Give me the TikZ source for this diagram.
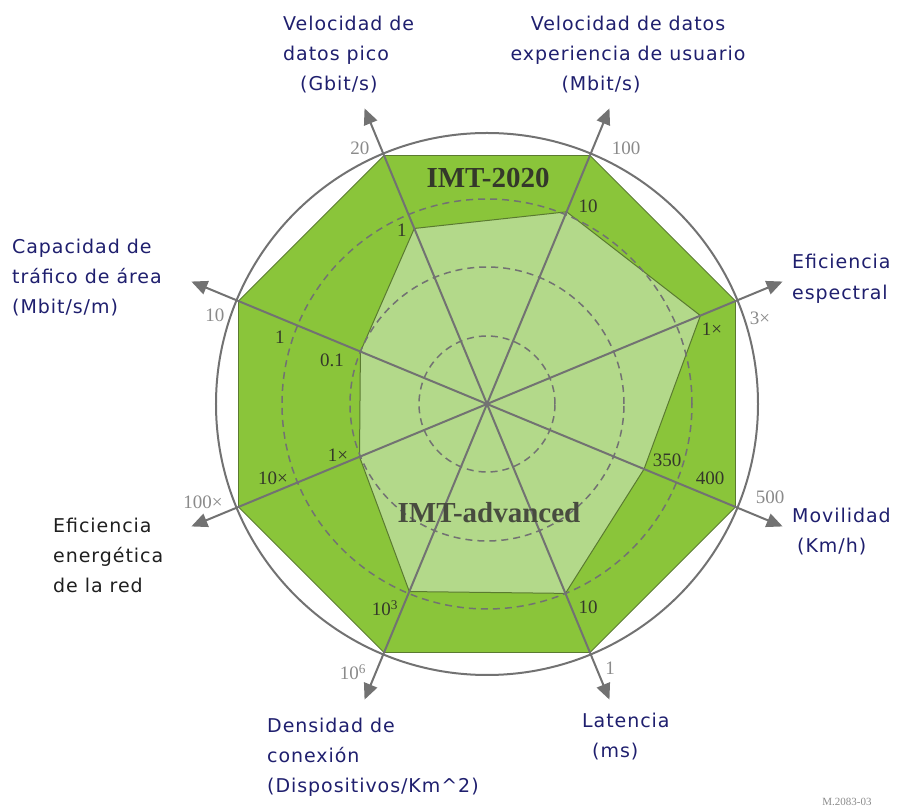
\documentclass[tikz,border=0pt]{standalone}
\usepackage{fontspec}
\setmainfont{Liberation Serif}
\newfontfamily\lblfont[LetterSpace=5]{DejaVu Sans}
\usetikzlibrary{arrows.meta}
\definecolor{outergreen}{HTML}{8AC53A}
\definecolor{innergreen}{HTML}{B3D98A}
\definecolor{polyline}{HTML}{5A7A30}
\definecolor{axisgray}{HTML}{727272}
\definecolor{navy}{HTML}{1F1F6E}
\definecolor{numgray}{HTML}{8A8A8A}
\definecolor{numdark}{HTML}{34382A}
\newcommand{\topstrut}{\rule{0pt}{16pt}}
\begin{document}
\begin{tikzpicture}[x=1pt,y=1pt,
  axislbl/.style={font=\lblfont\fontsize{19}{30}\selectfont, text=navy, inner sep=0pt, align=left, anchor=north west},
  outnum/.style={font=\fontsize{19}{19}\selectfont, text=numgray, inner sep=0pt},
  innum/.style={font=\fontsize{19}{19}\selectfont, text=numdark, inner sep=0pt},
  axisline/.style={draw=axisgray, line width=2pt, -{Triangle[length=16pt,width=14pt]}},
  gridring/.style={draw=axisgray, line width=1.5pt, dash pattern=on 7pt off 5pt},
  imtlbl/.style={font=\bfseries\fontsize{29}{29}\selectfont, text=numdark, inner sep=0pt}]
\useasboundingbox (-487,-406) rectangle (415,404);
\coordinate (C) at (0,0);
\foreach \k/\r in {0/231,1/208,2/190,3/137,4/138,5/203,6/205,7/170}{
  \coordinate (i\k) at (22.5+45*\k:\r);
  \coordinate (o\k) at (22.5+45*\k:269);
  \coordinate (t\k) at (22.5+45*\k:320);
}
% polygons
\filldraw[fill=outergreen, draw=polyline, line width=0.8pt] (o0) -- (o1) -- (o2) -- (o3) -- (o4) -- (o5) -- (o6) -- (o7) -- cycle;
\filldraw[fill=innergreen, draw=polyline, line width=1pt] (i0) -- (i1) -- (i2) -- (i3) -- (i4) -- (i5) -- (i6) -- (i7) -- cycle;
% rings
\foreach \r in {68,137,205}{\draw[gridring] (C) circle (\r);}
\draw[draw=axisgray, line width=2pt] (C) circle (271);
% axes
\foreach \k in {0,...,7}{\draw[axisline] (C) -- (t\k);}
% titles
\node[imtlbl] (imt2020) at (1,226) {IMT-2020};
\node[imtlbl, text=numdark!90] (imtadv) at (2,-109) {IMT-advanced};
% outer scale numbers
\node[outnum] (n20) at (-127,256) {20};
\node[outnum] (n100) at (139,256) {100};
\node[outnum] (n10a) at (-272,89) {10};
\node[outnum] (n100x) at (-284,-98) {100×};
\node[outnum] (n3x) at (273,86) {3×};
\node[outnum] (n500) at (283,-93) {500};
\node[outnum] (n106) at (-134,-268) {10\textsuperscript{6}};
\node[outnum] (n1l) at (123,-264) {1};
% inner scale numbers
\node[innum] (p1) at (-85,174) {1};
\node[innum] (u10) at (101,198) {10};
\node[innum] (s1x) at (225,75) {1×};
\node[innum] (a1) at (-207,67) {1};
\node[innum] (a01) at (-155,44) {0.1};
\node[innum] (e1x) at (-149,-51) {1×};
\node[innum] (e10x) at (-214,-74) {10×};
\node[innum] (m350) at (180,-56) {350};
\node[innum] (m400) at (223,-74) {400};
\node[innum] (c103) at (-102,-204) {10\textsuperscript{3}};
\node[innum] (l10) at (101,-203) {10};
% axis labels
\node[axislbl] (lpeak) at (-204,390) {\topstrut Velocidad de\\datos pico\\\hspace*{17pt}(Gbit/s)};
\node[axislbl, align=center, anchor=north] (luser) at (141,390) {\topstrut Velocidad de datos\\experiencia de usuario\\(Mbit/s)\hspace*{54pt}};
\node[axislbl] (larea) at (-475,167) {\topstrut Capacidad de\\tráfico de área\\(Mbit/s/m)};
\node[axislbl, font=\lblfont\fontsize{19}{31}\selectfont] (lspec) at (305,152) {\topstrut Eficiencia\\espectral};
\node[axislbl, text=black!88] (lener) at (-434,-112) {\topstrut Eficiencia\\energética\\de la red};
\node[axislbl] (lmob) at (305,-102) {\topstrut Movilidad\\\hspace*{5pt}(Km/h)};
\node[axislbl] (lconn) at (-220,-312) {\topstrut Densidad de\\conexión\\(Dispositivos/Km\textasciicircum 2)};
\node[axislbl] (llat) at (95,-307) {\topstrut Latencia\\\hspace*{10pt}(ms)};
\node[font=\fontsize{11}{11}\selectfont, text=numgray, inner sep=0pt] (fig) at (360,-398) {M.2083-03};
\end{tikzpicture}
\end{document}
